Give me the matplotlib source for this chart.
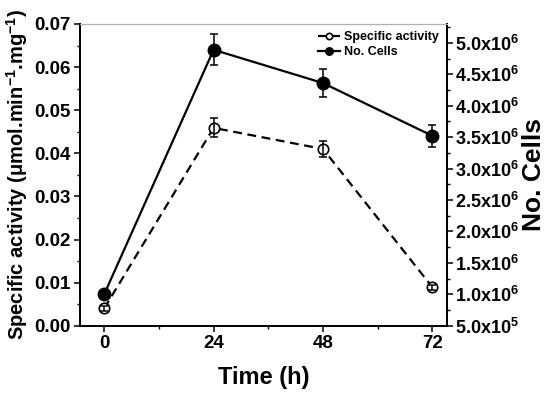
import numpy as np
import matplotlib
matplotlib.use('Agg')
import matplotlib.pyplot as plt
from matplotlib.ticker import MultipleLocator, FuncFormatter

plt.rcParams['font.family'] = ['Liberation Sans', 'DejaVu Sans']
plt.rcParams['font.weight'] = 'bold'
plt.rcParams['mathtext.fontset'] = 'custom'
plt.rcParams['mathtext.rm'] = 'Liberation Sans:bold'
plt.rcParams['mathtext.bf'] = 'Liberation Sans:bold'
plt.rcParams['mathtext.it'] = 'Liberation Sans:bold'

# data
time = [0, 24, 48, 72]
activity = [0.0040, 0.0459, 0.0410, 0.0089]
activity_err = [0.0006, 0.0022, 0.0018, 0.0005]
cells = [1.0e6, 4.89e6, 4.36e6, 3.52e6]
cells_err = [0.4e5, 2.5e5, 2.2e5, 1.7e5]

fig = plt.figure(figsize=(5.5, 3.96), dpi=100)
ax1 = fig.add_axes([0.1455, 0.1775, 0.812 - 0.1455, 0.9394 - 0.1775])
ax2 = ax1.twinx()

# lines and markers first, error bars drawn on top (visible inside open circles)
l1, = ax1.plot(time, activity, color='black', lw=1.6, linestyle=(0, (4, 2.5)),
               marker='o', mfc='white', mec='black', mew=1.2, ms=7.5, zorder=2)
ax1.errorbar(time, activity, yerr=activity_err, fmt='none', ecolor='black',
             capsize=3, elinewidth=1.1, capthick=1.1, zorder=3)
l2, = ax2.plot(time, cells, color='black', lw=1.6, marker='o', mfc='black',
               mec='black', ms=9, zorder=2)
ax2.errorbar(time, cells, yerr=cells_err, fmt='none', ecolor='black',
             capsize=3, elinewidth=1.1, capthick=1.1, zorder=3)

ax1.set_xlim(-5.3, 75.1)
ax1.set_ylim(0, 0.07)
ax2.set_ylim(5e5, 5.3e6)

ax1.set_xticks(time)
ax1.xaxis.set_minor_locator(MultipleLocator(12))
ax1.yaxis.set_major_locator(MultipleLocator(0.01))
ax1.yaxis.set_minor_locator(MultipleLocator(0.005))
ax1.yaxis.set_major_formatter(FuncFormatter(lambda v, p: '%.2f' % v))
ax2.yaxis.set_major_locator(MultipleLocator(5e5))
ax2.yaxis.set_minor_locator(MultipleLocator(2.5e5))


def sci(v, p):
    if v <= 0:
        return ''
    e = int(np.floor(np.log10(v) + 1e-9))
    return r'$\mathbf{%.1fx10^{%d}}$' % (v / 10 ** e, e)


ax2.yaxis.set_major_formatter(FuncFormatter(sci))

for ax in (ax1, ax2):
    ax.tick_params(which='major', length=4, width=1.1, labelsize=13.5, pad=3)
    ax.tick_params(which='minor', length=2.5, width=1.0)
    ax.spines['top'].set_color('#b0b0b0')
    ax.spines['top'].set_linewidth(0.8)
    for s in ('left', 'right', 'bottom'):
        ax.spines[s].set_linewidth(1.3)
ax2.tick_params(which='major', labelsize=13, pad=2)

ax1.set_xlabel('Time (h)', fontsize=17, fontweight='bold', labelpad=10)
ax1.set_ylabel(r'Specific activity (μmol.min$^{\mathbf{-1}}$.mg$^{\mathbf{-1}}$)',
               fontsize=14.5, fontweight='bold', labelpad=3)
ax2.set_ylabel('No. Cells', fontsize=19, fontweight='bold', labelpad=2)

ax2.legend([l1, l2], ['Specific activity', 'No. Cells'], loc='upper right',
           bbox_to_anchor=(1.0, 1.0), frameon=False, fontsize=9,
           handlelength=1.8, handletextpad=0.3, labelspacing=0.2,
           markerscale=0.6, borderaxespad=0.2)

fig.savefig('out.png', dpi=100)
